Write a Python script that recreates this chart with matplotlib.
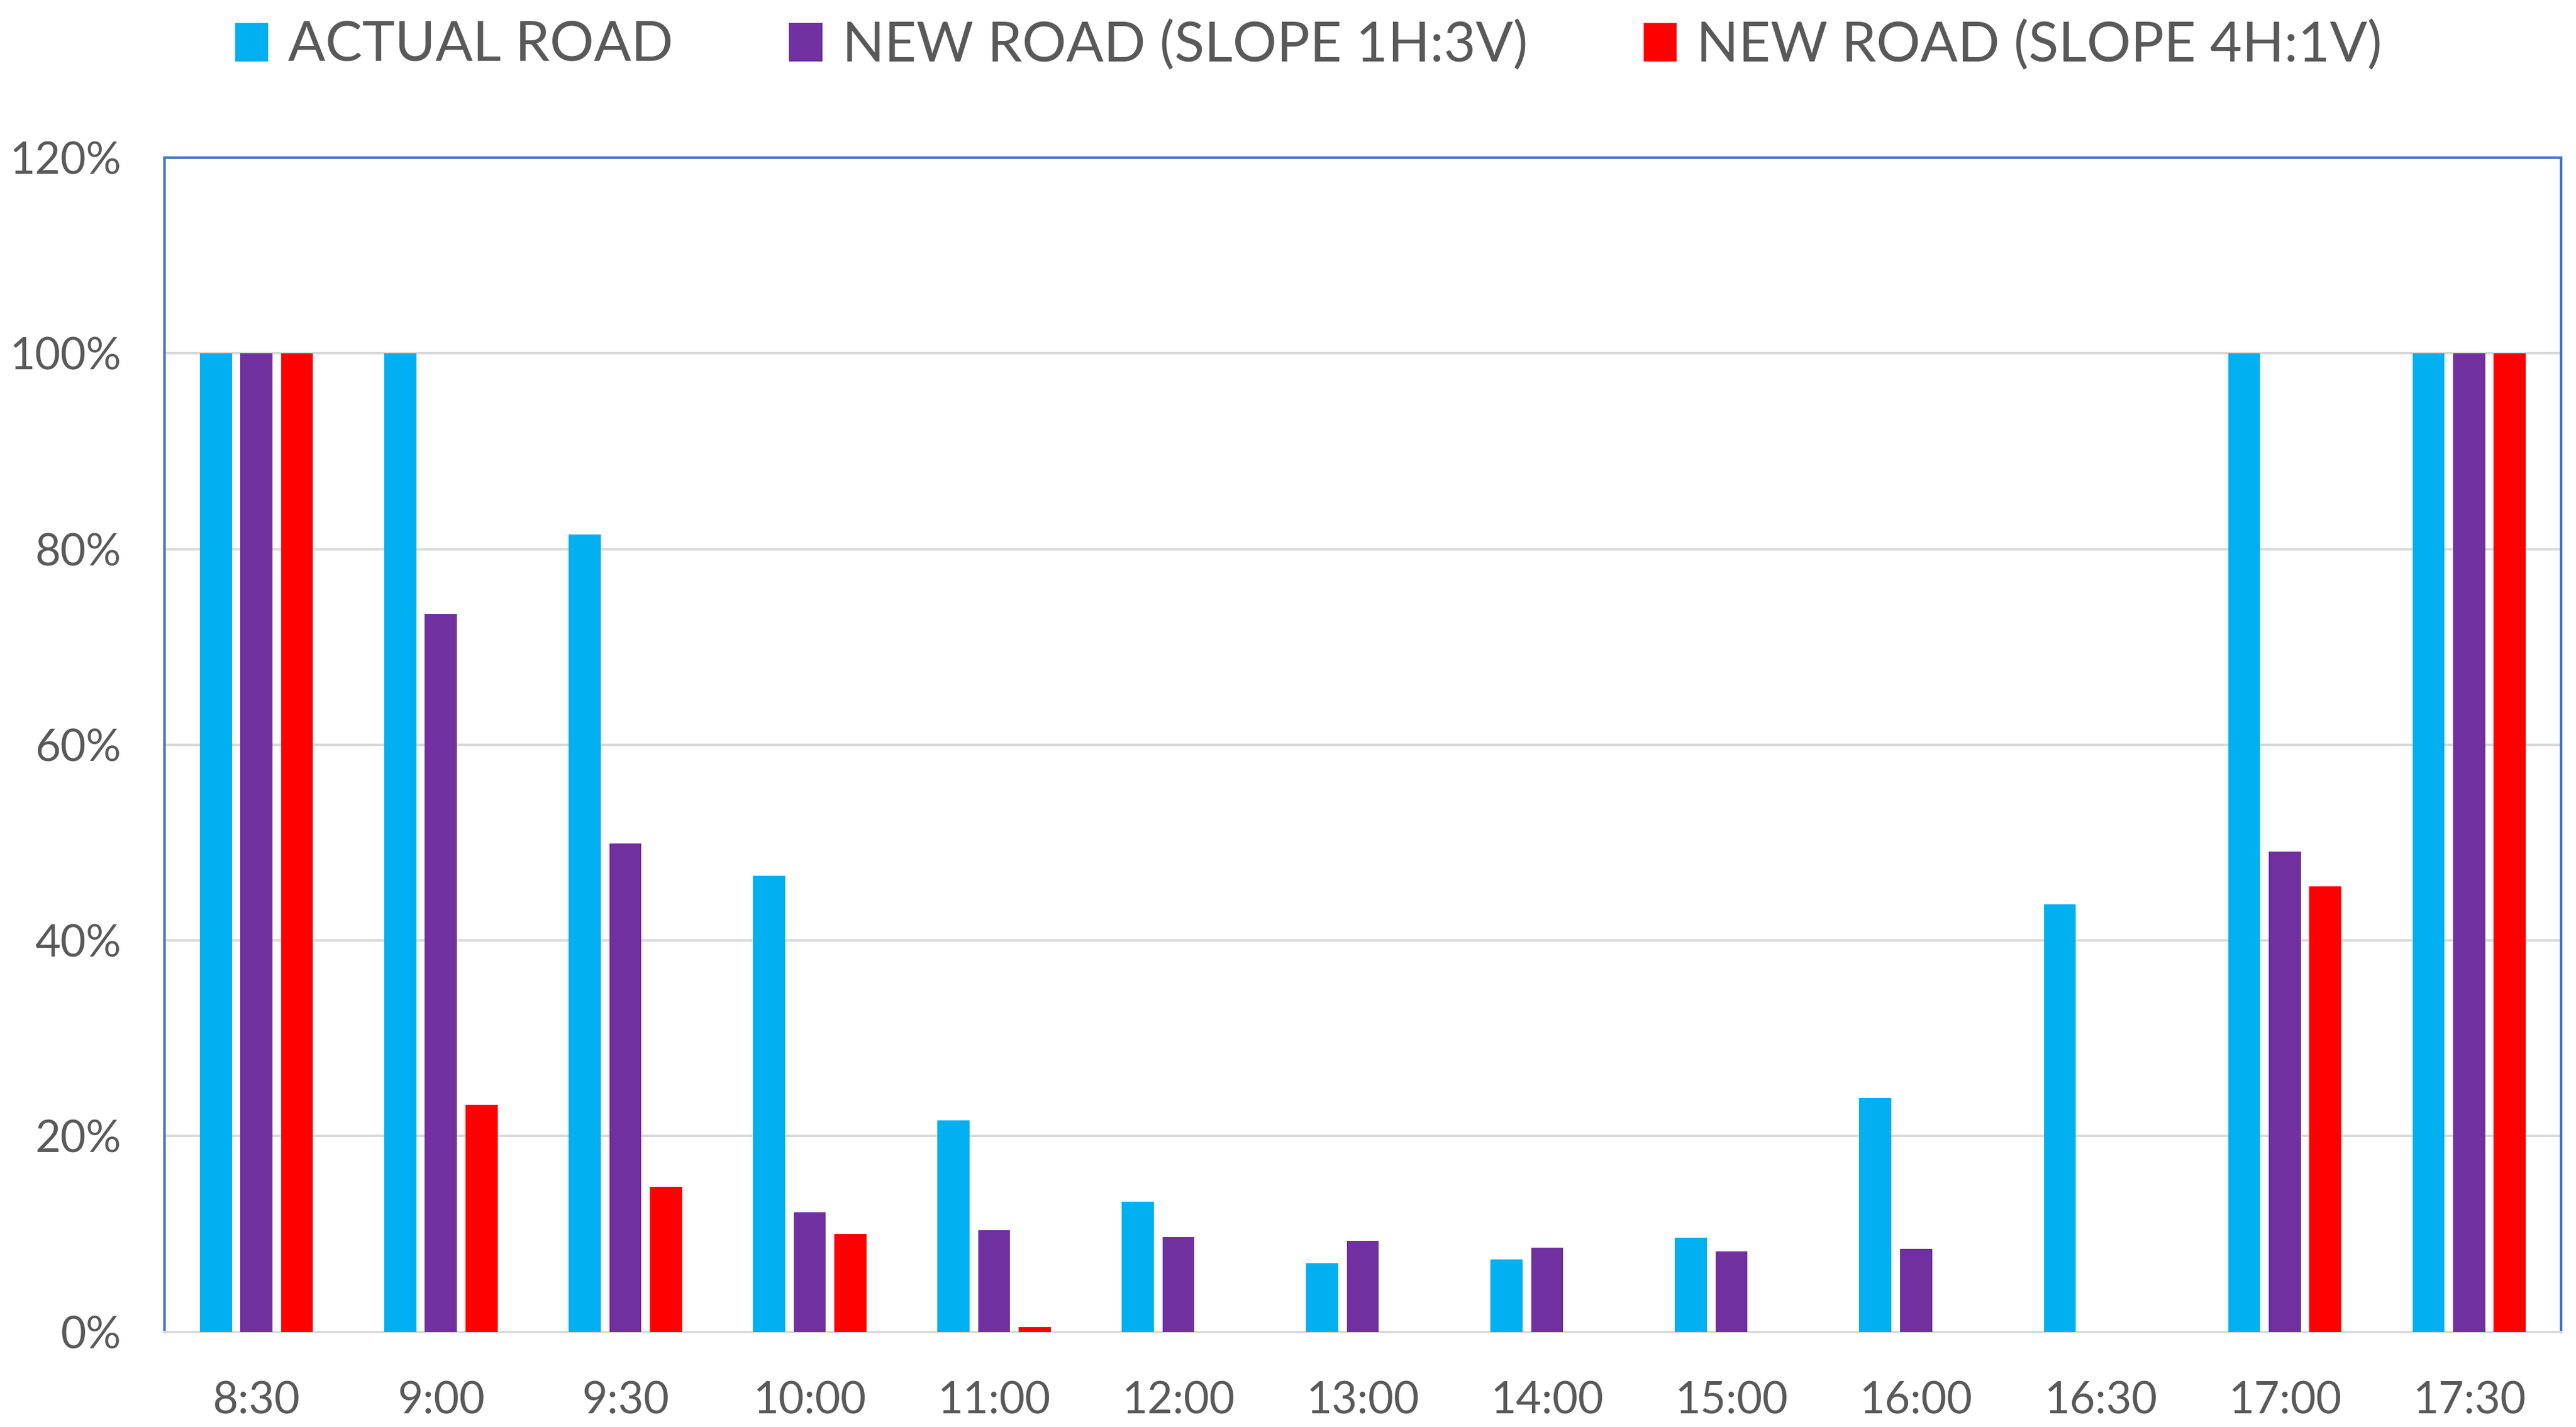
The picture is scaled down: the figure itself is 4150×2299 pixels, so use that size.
import matplotlib
matplotlib.use("Agg")
import matplotlib.pyplot as plt
import numpy as np
from matplotlib.patches import Patch
from matplotlib.ticker import FuncFormatter

categories = ["8:30", "9:00", "9:30", "10:00", "11:00", "12:00", "13:00",
              "14:00", "15:00", "16:00", "16:30", "17:00", "17:30"]
actual_road = [100, 100, 81.5, 46.6, 21.6, 13.3, 7.05, 7.4, 9.6, 23.9, 43.7, 100, 100]
new_road_1h3v = [100, 73.4, 49.9, 12.2, 10.4, 9.7, 9.3, 8.6, 8.2, 8.5, 0, 49.1, 100]
new_road_4h1v = [100, 23.2, 14.8, 10.0, 0.5, 0, 0, 0, 0, 0, 0, 45.5, 100]
series_names = ["ACTUAL ROAD", "NEW ROAD (SLOPE 1H:3V)", "NEW ROAD (SLOPE 4H:1V)"]
colors = ["#00B0F0", "#7030A0", "#FF0000"]

plt.rcParams['font.family'] = ['Lato', 'DejaVu Sans']

fig = plt.figure(figsize=(41.5, 22.99), dpi=100)
ax = fig.add_axes([0.0638, 0.0667, 0.9305, 0.8228])

x = np.arange(len(categories))
w = 0.174
step = 0.22
for i, (vals, c) in enumerate(zip([actual_road, new_road_1h3v, new_road_4h1v], colors)):
    ax.bar(x + (i - 1) * step, vals, width=w, color=c, zorder=3)

ax.set_xlim(-0.5, len(categories) - 0.5)
ax.set_ylim(0, 120)
ax.set_yticks(np.arange(0, 121, 20))
ax.yaxis.set_major_formatter(FuncFormatter(lambda v, p: f"{int(v)}%"))
ax.set_xticks(x)
ax.set_xticklabels(categories)
ax.tick_params(axis='both', length=0, labelsize=51, colors="#595959")
ax.tick_params(axis='y', pad=50)
ax.tick_params(axis='x', pad=57)
ax.grid(axis='y', color="#D9D9D9", linewidth=2.8, zorder=0)
ax.set_axisbelow(True)
for s in ["left", "top", "right"]:
    ax.spines[s].set_color("#4472C4")
    ax.spines[s].set_linewidth(3)
ax.spines["bottom"].set_color("#D9D9D9")
ax.spines["bottom"].set_linewidth(2.8)

handles = [Patch(facecolor=c, edgecolor='none') for c in colors]
leg = fig.legend(handles, series_names, loc="center", bbox_to_anchor=(0.508, 0.968),
                 ncol=3, frameon=False, fontsize=64, handlelength=0.6, handleheight=0.7,
                 handletextpad=0.36, columnspacing=2.1)
for t in leg.get_texts():
    t.set_color("#595959")

fig.savefig("out.png", dpi=100)
